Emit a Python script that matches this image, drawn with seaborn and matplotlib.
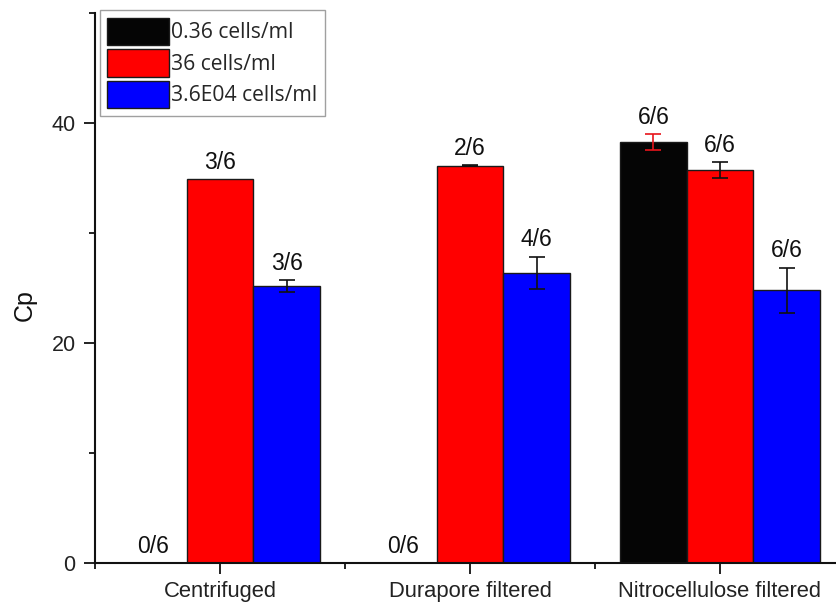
import matplotlib
matplotlib.use("Agg")
import matplotlib.pyplot as plt
from matplotlib.patches import Patch
from matplotlib.ticker import MultipleLocator, FixedLocator
import seaborn as sns
import pandas as pd

# Sample preparation methods (x categories)
methods = ["Centrifuged", "Durapore filtered", "Nitrocellulose filtered"]
# Spiked concentrations (hue levels)
concentrations = ["0.36 cells/ml", "36 cells/ml", "3.6E04 cells/ml"]

# Mean Cp per concentration, one value per method
cp_low = [0.0, 0.0, 38.3]
cp_mid = [34.9, 36.1, 35.7]
cp_high = [25.2, 26.4, 24.8]

# Standard deviations
sd_low = [0.0, 0.0, 0.73]
sd_mid = [0.0, 0.05, 0.73]
sd_high = [0.55, 1.45, 2.05]

# Positive replicates out of six
detected_low = ["0/6", "0/6", "6/6"]
detected_mid = ["3/6", "2/6", "6/6"]
detected_high = ["3/6", "4/6", "6/6"]

colors = ["#050505", "#ff0000", "#0000ff"]
err_colors = ["#e8141b", "#111111", "#111111"]

cp_all = [cp_low, cp_mid, cp_high]
sd_all = [sd_low, sd_mid, sd_high]
lab_all = [detected_low, detected_mid, detected_high]

rows = []
for conc, vals in zip(concentrations, cp_all):
    for m, v in zip(methods, vals):
        rows.append({"method": m, "conc": conc, "cp": v})
df = pd.DataFrame(rows)

sns.set_style("white")
plt.rcParams["font.family"] = ["Liberation Sans", "DejaVu Sans"]

fig = plt.figure(figsize=(8.37, 6.04), dpi=100)
ax = fig.add_axes([95 / 837, 41 / 604, 750 / 837, 550 / 604])

sns.barplot(data=df, x="method", y="cp", hue="conc", order=methods,
            hue_order=concentrations, palette=colors, width=0.8,
            edgecolor="#1a1a1a", linewidth=1.0, errorbar=None,
            legend=False, ax=ax, saturation=1)

# Error bars and detection labels on each bar
for container, sds, labs, ecol in zip(ax.containers, sd_all, lab_all, err_colors):
    for bar, sd, lab in zip(container.patches, sds, labs):
        xc = bar.get_x() + bar.get_width() / 2
        h = bar.get_height()
        if sd > 0:
            ax.errorbar(xc, h, yerr=sd, fmt="none", ecolor=ecol,
                        elinewidth=1.2, capsize=6, capthick=1.2, zorder=4)
        ax.annotate(lab, (xc, h + sd), xytext=(0, 12),
                    textcoords="offset points", ha="center", va="center",
                    fontsize=16.5, color="#111111", zorder=5)

ax.set_xlim(-0.5, 2.5)
ax.set_ylim(0, 50)
ax.yaxis.set_major_locator(MultipleLocator(20))
ax.yaxis.set_minor_locator(FixedLocator([10, 30, 50]))
ax.xaxis.set_minor_locator(FixedLocator([-0.5, 0.5, 1.5, 2.5]))

for side in ["top", "right"]:
    ax.spines[side].set_visible(False)
for side in ["left", "bottom"]:
    ax.spines[side].set_linewidth(1.5)
    ax.spines[side].set_color("#111111")

ax.tick_params(axis="both", which="major", direction="out", length=8,
               width=1.3, color="#111111", labelcolor="#222222")
ax.tick_params(axis="both", which="minor", direction="out", length=4.5,
               width=1.3, color="#111111")
ax.tick_params(axis="y", which="major", pad=6, left=True, labelsize=15.5)
ax.tick_params(axis="y", which="minor", left=True)
ax.tick_params(axis="x", which="major", pad=5, bottom=True, labelsize=15.8)
ax.tick_params(axis="x", which="minor", bottom=True)

ax.set_xlabel("")
ax.set_ylabel("Cp", fontsize=18, color="#111111")
ax.yaxis.set_label_coords(-0.077, 0.469)

handles = [Patch(facecolor=c, edgecolor="#1a1a1a", linewidth=1.0) for c in colors]
leg = ax.legend(handles, concentrations, loc="upper left",
                bbox_to_anchor=(5 / 750, 1.005), borderaxespad=0,
                frameon=True, fancybox=False, edgecolor="#888888",
                handlelength=2.9, handleheight=1.62, handletextpad=0.12,
                labelspacing=0.2, borderpad=0.35,
                prop={"family": ["Open Sans", "DejaVu Sans"], "size": 15.2})
leg.get_frame().set_linewidth(1.0)

fig.savefig("out.png", dpi=100)
